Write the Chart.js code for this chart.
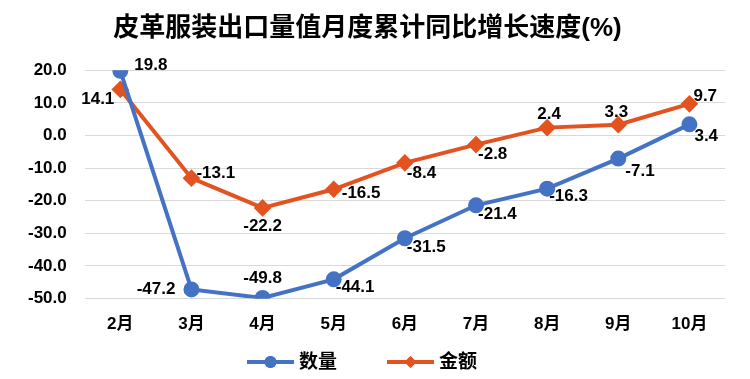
<!DOCTYPE html>
<html>
<head>
<meta charset="utf-8">
<script src="https://cdn.jsdelivr.net/npm/chart.js@4/dist/chart.umd.min.js"></script>
<style>
html,body{margin:0;padding:0;background:#fff;}
#wrap{width:750px;height:379px;position:relative;}
</style>
</head>
<body>
<div id="wrap"><canvas id="c" width="750" height="379"></canvas></div>
<script>
const categories = ["2月","3月","4月","5月","6月","7月","8月","9月","10月"];
const quantity = [19.8, -47.2, -49.8, -44.1, -31.5, -21.4, -16.3, -7.1, 3.4];
const amount = [14.1, -13.1, -22.2, -16.5, -8.4, -2.8, 2.4, 3.3, 9.7];
const seriesNames = ["数量", "金额"];
const titleText = "皮革服装出口量值月度累计同比增长速度(%)";
const yTicks = [20, 10, 0, -10, -20, -30, -40, -50];

const FONT = "'Liberation Sans','Noto Sans CJK SC',sans-serif";

// label placement style: [dx, dy, textAlign]
const labelStyle = [
  [[14,-6,'left'],[-16,0,'right'],[0,-20,'center'],[2,8,'left'],[2,9,'left'],[2,9,'left'],[2,8,'left'],[7,13,'left'],[5,12,'left']],
  [[-6,10,'right'],[5,-5,'left'],[0,18,'center'],[8,4,'left'],[2,10,'left'],[2,10,'left'],[2,-13,'center'],[-2,-12,'center'],[4,-7,'left']]
];

const labelPlugin = {
  id: 'pointLabels',
  afterDatasetsDraw(chart) {
    const ctx = chart.ctx;
    ctx.save();
    ctx.font = "bold 17px " + FONT;
    ctx.fillStyle = '#000';
    ctx.textBaseline = 'middle';
    chart.data.datasets.forEach((ds, di) => {
      const meta = chart.getDatasetMeta(di);
      meta.data.forEach((pt, i) => {
        const s = labelStyle[di][i];
        ctx.textAlign = s[2];
        ctx.fillText(ds.data[i].toFixed(1), pt.x + s[0], pt.y + s[1]);
      });
    });
    ctx.restore();
  }
};

// Legend drawn under the axis: line with marker, then text
const legendPlugin = {
  id: 'lineLegend',
  afterDraw(chart) {
    const ctx = chart.ctx;
    ctx.save();
    ctx.font = "bold 19px " + FONT;
    ctx.textBaseline = 'middle';
    ctx.textAlign = 'left';
    const y = 362;
    const lineW = 47, gapText = 5, gapItem = 50;
    const items = chart.data.datasets.map(ds => ({ ds, w: ctx.measureText(ds.label).width }));
    let total = 0;
    items.forEach((it, i) => { total += lineW + gapText + it.w + (i ? gapItem : 0); });
    let x = 362 - total / 2;
    items.forEach((it, i) => {
      if (i) x += gapItem;
      const ds = it.ds;
      ctx.strokeStyle = ds.borderColor;
      ctx.lineWidth = 4;
      ctx.beginPath();
      ctx.moveTo(x, y);
      ctx.lineTo(x + lineW, y);
      ctx.stroke();
      ctx.fillStyle = ds.borderColor;
      Chart.helpers.drawPoint(ctx, { pointStyle: ds.pointStyle, radius: 6, rotation: 0, borderWidth: 0 }, x + lineW / 2, y);
      ctx.fill();
      x += lineW + gapText;
      ctx.fillStyle = '#000';
      ctx.fillText(ds.label, x, y + 1);
      x += it.w;
    });
    ctx.restore();
  }
};

new Chart(document.getElementById('c'), {
  type: 'line',
  data: {
    labels: categories,
    datasets: [
      {
        label: seriesNames[0],
        data: quantity,
        borderColor: '#4472C4',
        backgroundColor: '#4472C4',
        borderWidth: 4,
        pointStyle: 'circle',
        pointRadius: 6,
        pointHoverRadius: 6,
        tension: 0
      },
      {
        label: seriesNames[1],
        data: amount,
        borderColor: '#E2531F',
        backgroundColor: '#E2531F',
        borderWidth: 4,
        pointStyle: 'rectRot',
        pointRadius: 6,
        pointHoverRadius: 6,
        tension: 0
      }
    ]
  },
  options: {
    responsive: false,
    animation: false,
    layout: { padding: { left: 10, right: 25, top: 0, bottom: 28 } },
    plugins: {
      title: {
        display: true,
        text: titleText,
        color: '#000',
        font: { family: FONT, size: 26, weight: 'bold' },
        padding: { top: 13, bottom: 26 }
      },
      legend: { display: false },
      tooltip: { enabled: false }
    },
    scales: {
      x: {
        offset: true,
        grid: { display: false, drawTicks: false },
        border: { display: false },
        ticks: { color: '#000', font: { family: FONT, size: 17, weight: 'bold' }, padding: 16 }
      },
      y: {
        min: -50,
        max: 20,
        afterBuildTicks(axis) { axis.ticks = yTicks.map(v => ({ value: v })); },
        grid: { color: '#D9D9D9', lineWidth: 1, drawTicks: false },
        border: { display: false },
        ticks: {
          color: '#000',
          font: { family: FONT, size: 17, weight: 'bold' },
          padding: 18,
          callback: v => Number(v).toFixed(1)
        }
      }
    }
  },
  plugins: [labelPlugin, legendPlugin]
});
</script>
</body>
</html>
